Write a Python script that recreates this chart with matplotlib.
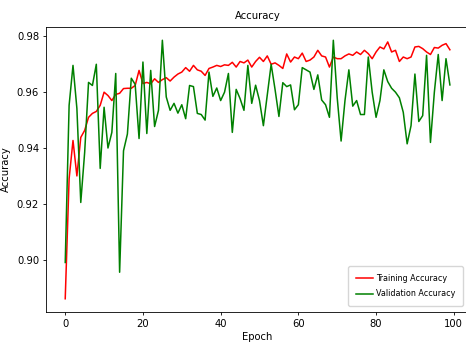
#Grafica de la precision de entrenamiento y validacion por epoca.

import numpy as np                 # Librería para manejo de arreglos numéricos
import matplotlib
matplotlib.use("Agg")              # Sin pantalla
import matplotlib.pyplot as plt    # Librería para graficar


# 1. Datos de la grafica

epocas = np.arange(100)

train_acc = [
    0.886, 0.929, 0.9427, 0.930, 0.9438, 0.9463, 0.951, 0.9524, 0.9531, 0.9553,
    0.960, 0.9588, 0.957, 0.9592, 0.9596, 0.9613, 0.9614, 0.9614, 0.9624, 0.9678,
    0.9631, 0.9635, 0.963, 0.9648, 0.9635, 0.9645, 0.9652, 0.964, 0.9654, 0.9665,
    0.9672, 0.9688, 0.9675, 0.9696, 0.968, 0.9675, 0.966, 0.9685, 0.969, 0.9696,
    0.9692, 0.9698, 0.9696, 0.9707, 0.969, 0.971, 0.9705, 0.9715, 0.969, 0.971,
    0.9725, 0.971, 0.973, 0.970, 0.9705, 0.9696, 0.9685, 0.9737, 0.9708, 0.9726,
    0.972, 0.974, 0.971, 0.9715, 0.9726, 0.975, 0.973, 0.9726, 0.969, 0.9726,
    0.972, 0.972, 0.973, 0.9737, 0.9732, 0.9744, 0.9735, 0.975, 0.9738, 0.972,
    0.9744, 0.9762, 0.9755, 0.978, 0.9744, 0.975, 0.971, 0.9726, 0.972, 0.9726,
    0.9762, 0.9764, 0.9756, 0.9744, 0.9735, 0.976, 0.9758, 0.9768, 0.9774, 0.9752,
]

val_acc = [
    0.899, 0.9553, 0.9696, 0.9542, 0.9205, 0.9384, 0.9635, 0.9624, 0.970, 0.9327,
    0.9546, 0.940, 0.9456, 0.9667, 0.8955, 0.939, 0.945, 0.965, 0.9628, 0.9434,
    0.9708, 0.9452, 0.9678, 0.9477, 0.9535, 0.9786, 0.9583, 0.9535, 0.956, 0.9525,
    0.9555, 0.9505, 0.9624, 0.962, 0.9524, 0.952, 0.950, 0.9672, 0.9585, 0.9615,
    0.957, 0.960, 0.9667, 0.9456, 0.961, 0.9577, 0.9535, 0.9696, 0.956, 0.9625,
    0.957, 0.948, 0.959, 0.970, 0.961, 0.9513, 0.9634, 0.962, 0.9626, 0.9537,
    0.9555, 0.9688, 0.968, 0.9672, 0.961, 0.9662, 0.9572, 0.9555, 0.951, 0.9786,
    0.958, 0.9425, 0.957, 0.968, 0.955, 0.957, 0.952, 0.952, 0.9726, 0.960,
    0.951, 0.957, 0.968, 0.9638, 0.9614, 0.960, 0.958, 0.9528, 0.9415, 0.948,
    0.9665, 0.9495, 0.9516, 0.9732, 0.942, 0.960, 0.9735, 0.957, 0.972, 0.9626,
]


# 2. Figura (la imagen original esta recortada a la derecha)

plt.rcParams["font.size"] = 7.2

fig = plt.figure(figsize=(4.66, 3.43), dpi=100)
ax = fig.add_axes([0.0987, 0.0913, 0.908, 0.829])

ax.plot(epocas, train_acc, color="r", linewidth=1.1, label="Training Accuracy")
ax.plot(epocas, val_acc, color="g", linewidth=1.1, label="Validation Accuracy")

ax.set_title("Accuracy", fontsize=7.2, pad=6)
ax.set_xlabel("Epoch", labelpad=2.5)
ax.set_ylabel("Accuracy", labelpad=4)
ax.set_xticks([0, 20, 40, 60, 80, 100])
ax.set_yticks([0.90, 0.92, 0.94, 0.96, 0.98])
ax.tick_params(length=2.5, width=0.6, pad=2.5)
for lado in ax.spines.values():
    lado.set_linewidth(0.6)

ax.legend(loc="lower right", fontsize=5.8, handlelength=2.2, handletextpad=0.4,
          borderpad=0.9, labelspacing=0.85, borderaxespad=0.75)


# 3. Guardar imagen

fig.savefig("out.png", dpi=100)
